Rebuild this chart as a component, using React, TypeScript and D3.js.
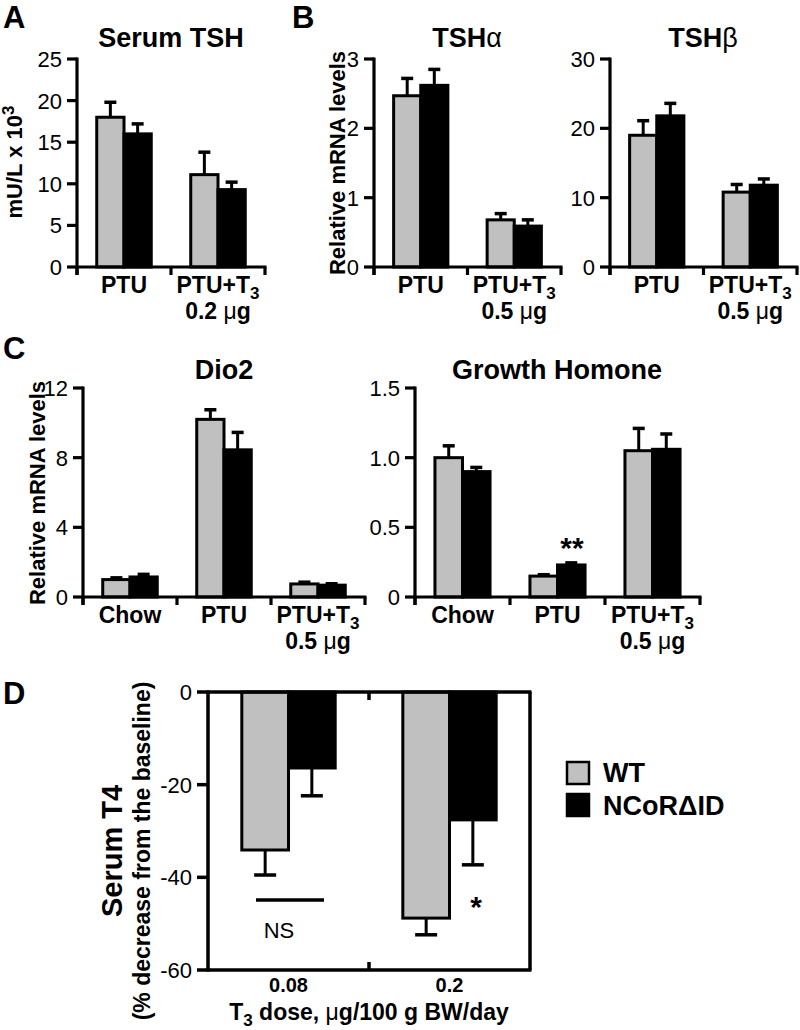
import React from 'react';
import * as d3 from 'd3';

const GRAY = '#c0c0c0';
const FONT = '"Liberation Sans", Arial, Helvetica, sans-serif';

// ---- Panel A: Serum TSH ----
const catsA = ['PTU', 'PTU+T3'];
const dosesA = ['', '0.2 μg'];
const tshWT = [18.0, 11.1];
const tshWTErr = [19.8, 13.8];
const tshKO = [16.0, 9.3];
const tshKOErr = [17.2, 10.2];
const ticksA = [0, 5, 10, 15, 20, 25];

// ---- Panel B: TSHalpha ----
const catsB = ['PTU', 'PTU+T3'];
const dosesB = ['', '0.5 μg'];
const tshaWT = [2.47, 0.68];
const tshaWTErr = [2.72, 0.77];
const tshaKO = [2.62, 0.59];
const tshaKOErr = [2.85, 0.68];
const ticksBa = [0, 1, 2, 3];

// ---- Panel B: TSHbeta ----
const tshbWT = [19.0, 10.8];
const tshbWTErr = [21.1, 11.9];
const tshbKO = [21.8, 11.8];
const tshbKOErr = [23.6, 12.7];
const ticksBb = [0, 10, 20, 30];

// ---- Panel C ----
const catsC = ['Chow', 'PTU', 'PTU+T3'];
const dosesC = ['', '', '0.5 μg'];
const dio2WT = [1.0, 10.2, 0.75];
const dio2WTErr = [1.1, 10.75, 0.85];
const dio2KO = [1.15, 8.45, 0.68];
const dio2KOErr = [1.3, 9.45, 0.76];
const ticksDio2 = [0, 4, 8, 12];

const ghWT = [1.0, 0.15, 1.05];
const ghWTErr = [1.085, 0.16, 1.21];
const ghKO = [0.9, 0.23, 1.06];
const ghKOErr = [0.93, 0.245, 1.17];
const ticksGH = [0, 0.5, 1.0, 1.5];

// ---- Panel D ----
const catsD = ['0.08', '0.2'];
const t4WT = [-34.1, -48.8];
const t4WTErr = [-39.5, -52.4];
const t4KO = [-16.4, -27.6];
const t4KOErr = [-22.4, -37.3];
const ticksD = [0, -20, -40, -60];

const legendLabels = ['WT', 'NCoRΔID'];

function CatLabel({ x, y, y2, label, dose }) {
  const isT3 = label.endsWith('T3');
  return (
    <g fontFamily={FONT} fontWeight="bold" fontSize={23} textAnchor="middle" fill="#000">
      <text x={x} y={y}>
        {isT3 ? (
          <>
            <tspan>{label.slice(0, -1)}</tspan>
            <tspan dy={6} fontSize={17}>3</tspan>
          </>
        ) : (
          label
        )}
      </text>
      {dose ? (
        <text x={x} y={y2}>
          <tspan>{dose.split(' ')[0] + ' '}</tspan>
          <tspan fontWeight="normal">μ</tspan>
          <tspan>g</tspan>
        </text>
      ) : null}
    </g>
  );
}

function BarPanel({
  x0, x1, yTop, yBottom, max, ticks, fmt, cats, doses, wt, wtErr, ko, koErr,
  title, titleY, labY, labY2,
}) {
  const x = d3.scaleBand().domain(cats).range([x0, x1]).paddingInner(0).paddingOuter(0);
  const y = d3.scaleLinear().domain([0, max]).range([yBottom, yTop]);
  const bw = x.bandwidth();
  const barW = bw * 0.29;
  const cap = 6;
  const fmtFn = fmt || ((d) => String(d));
  const bounds = d3.range(cats.length + 1).map((i) => x0 + i * bw);
  return (
    <g>
      {title}
      {cats.map((c, i) => {
        const cx = (x(c) as number) + bw / 2;
        const bars = [
          { v: wt[i], e: wtErr[i], fill: GRAY, left: cx - barW },
          { v: ko[i], e: koErr[i], fill: '#000', left: cx },
        ];
        return (
          <g key={c}>
            {bars.map((b, j) => {
              const mx = b.left + barW / 2;
              return (
                <g key={j}>
                  <line x1={mx} x2={mx} y1={y(b.v)} y2={y(b.e)} stroke="#000" strokeWidth={3} />
                  <line x1={mx - cap} x2={mx + cap} y1={y(b.e)} y2={y(b.e)} stroke="#000" strokeWidth={3.5} />
                  <rect
                    x={b.left}
                    y={y(b.v)}
                    width={barW}
                    height={yBottom - y(b.v)}
                    fill={b.fill}
                    stroke="#000"
                    strokeWidth={3}
                  />
                </g>
              );
            })}
          </g>
        );
      })}
      {/* y axis */}
      <line x1={x0} x2={x0} y1={yTop - 1.5} y2={yBottom + 8} stroke="#000" strokeWidth={3.2} />
      {ticks.map((t) => (
        <g key={t}>
          <line x1={x0 - 10} x2={x0} y1={y(t)} y2={y(t)} stroke="#000" strokeWidth={3.2} />
          <text
            x={x0 - 15}
            y={y(t)}
            dy="0.36em"
            textAnchor="end"
            fontFamily={FONT}
            fontSize={22}
            fill="#000"
          >
            {fmtFn(t)}
          </text>
        </g>
      ))}
      {/* x axis */}
      <line x1={x0} x2={x1 + 1.5} y1={yBottom} y2={yBottom} stroke="#000" strokeWidth={3.2} />
      {bounds.map((b, i) => (
        <line key={i} x1={b} x2={b} y1={yBottom} y2={yBottom + 8} stroke="#000" strokeWidth={3.2} />
      ))}
      {cats.map((c, i) => (
        <CatLabel key={c} x={(x(c) as number) + bw / 2} y={labY} y2={labY2} label={c} dose={doses[i]} />
      ))}
    </g>
  );
}

function Title({ x, y, children }) {
  return (
    <text x={x} y={y} textAnchor="middle" fontFamily={FONT} fontWeight="bold" fontSize={27} fill="#000">
      {children}
    </text>
  );
}

function PanelLetter({ x, y, children }) {
  return (
    <text x={x} y={y} fontFamily={FONT} fontWeight="bold" fontSize={31} fill="#000">
      {children}
    </text>
  );
}

function YLabel({ x, y, size = 22, children }) {
  return (
    <text
      transform={`translate(${x},${y}) rotate(-90)`}
      textAnchor="middle"
      fontFamily={FONT}
      fontWeight="bold"
      fontSize={size}
      fill="#000"
    >
      {children}
    </text>
  );
}

function PanelD() {
  const x0 = 208;
  const x1 = 530;
  const yTop = 692;
  const yBot = 970;
  const x = d3.scaleBand().domain(catsD).range([x0, x1]);
  const y = d3.scaleLinear().domain([0, -60]).range([yTop, yBot]);
  const bw = x.bandwidth();
  const barW = bw * 0.29;
  const cap = 11;
  return (
    <g>
      {catsD.map((c, i) => {
        const cx = (x(c) as number) + bw / 2;
        const bars = [
          { v: t4WT[i], e: t4WTErr[i], fill: GRAY, left: cx - barW },
          { v: t4KO[i], e: t4KOErr[i], fill: '#000', left: cx },
        ];
        return (
          <g key={c}>
            {bars.map((b, j) => {
              const mx = b.left + barW / 2;
              return (
                <g key={j}>
                  <line x1={mx} x2={mx} y1={y(b.v)} y2={y(b.e)} stroke="#000" strokeWidth={3} />
                  <line x1={mx - cap} x2={mx + cap} y1={y(b.e)} y2={y(b.e)} stroke="#000" strokeWidth={3.5} />
                  <rect
                    x={b.left}
                    y={yTop}
                    width={barW}
                    height={y(b.v) - yTop}
                    fill={b.fill}
                    stroke="#000"
                    strokeWidth={3}
                  />
                </g>
              );
            })}
            <text
              x={cx}
              y={992}
              textAnchor="middle"
              fontFamily={FONT}
              fontWeight="bold"
              fontSize={20}
              fill="#000"
            >
              {c}
            </text>
          </g>
        );
      })}
      {/* frame */}
      <line x1={x0} x2={x0} y1={yTop - 1.5} y2={yBot + 1.5} stroke="#000" strokeWidth={3.5} />
      <line x1={x0} x2={x1 + 1.5} y1={yTop} y2={yTop} stroke="#000" strokeWidth={3.5} />
      <line x1={x0} x2={x1 + 1.5} y1={yBot} y2={yBot} stroke="#000" strokeWidth={3.5} />
      <line x1={x1} x2={x1} y1={yTop} y2={yBot} stroke="#000" strokeWidth={3.5} />
      <line x1={x0 + bw} x2={x0 + bw} y1={yTop} y2={yTop + 8} stroke="#000" strokeWidth={3.5} />
      <line x1={x0 + bw} x2={x0 + bw} y1={yBot} y2={yBot - 8} stroke="#000" strokeWidth={3.5} />
      {ticksD.map((t) => (
        <g key={t}>
          <line x1={x0 - 11} x2={x0} y1={y(t)} y2={y(t)} stroke="#000" strokeWidth={3.5} />
          <text x={x0 - 16} y={y(t)} dy="0.36em" textAnchor="end" fontFamily={FONT} fontSize={22} fill="#000">
            {t === 0 ? '0' : `-${Math.abs(t)}`}
          </text>
        </g>
      ))}
      {/* NS annotation */}
      <line x1={256} x2={324} y1={900} y2={900} stroke="#000" strokeWidth={3.5} />
      <text x={279} y={938} textAnchor="middle" fontFamily={FONT} fontSize={22} fill="#000">
        NS
      </text>
      <text x={476} y={917} textAnchor="middle" fontFamily={FONT} fontWeight="bold" fontSize={30} fill="#000">
        *
      </text>
      {/* x label */}
      <text x={369} y={1020} textAnchor="middle" fontFamily={FONT} fontWeight="bold" fontSize={23} fill="#000">
        <tspan>T</tspan>
        <tspan dy={6} fontSize={17}>3</tspan>
        <tspan dy={-6}> dose, </tspan>
        <tspan fontWeight="normal">μ</tspan>
        <tspan>g/100 g BW/day</tspan>
      </text>
      {/* y label */}
      <YLabel x={122} y={851} size={29}>Serum T4</YLabel>
      <YLabel x={150} y={851} size={23}>(% decrease from the baseline)</YLabel>
      {/* legend */}
      {legendLabels.map((l, i) => (
        <g key={l}>
          <rect
            x={567}
            y={762 + i * 32}
            width={22}
            height={22}
            fill={i === 0 ? GRAY : '#000'}
            stroke="#000"
            strokeWidth={2.5}
          />
          <text x={603} y={782 + i * 33} fontFamily={FONT} fontWeight="bold" fontSize={27} fill="#000">
            {l}
          </text>
        </g>
      ))}
    </g>
  );
}

export default function App() {
  return (
    <svg
      width={800}
      height={1030}
      viewBox="0 0 800 1030"
      style={{ position: 'absolute', left: 0, top: 0, background: '#fff' }}
    >
      <rect x={0} y={0} width={800} height={1030} fill="#fff" />
      <PanelLetter x={3} y={28}>A</PanelLetter>
      <PanelLetter x={292} y={28}>B</PanelLetter>
      <PanelLetter x={3} y={359}>C</PanelLetter>
      <PanelLetter x={3} y={704}>D</PanelLetter>

      {/* Panel A */}
      <BarPanel
        x0={77} x1={265} yTop={59} yBottom={267} max={25} ticks={ticksA}
        cats={catsA} doses={dosesA} wt={tshWT} wtErr={tshWTErr} ko={tshKO} koErr={tshKOErr}
        title={<Title x={171} y={47}>Serum TSH</Title>}
        labY={293} labY2={319}
      />
      <YLabel x={22} y={162}>
        <tspan>mU/L x 10</tspan>
        <tspan dy={-8} fontSize={17}>3</tspan>
      </YLabel>

      {/* Panel B alpha */}
      <BarPanel
        x0={374} x1={561} yTop={59} yBottom={267} max={3} ticks={ticksBa}
        cats={catsB} doses={dosesB} wt={tshaWT} wtErr={tshaWTErr} ko={tshaKO} koErr={tshaKOErr}
        title={<Title x={467} y={47}><tspan>TSH</tspan><tspan fontWeight="normal">α</tspan></Title>}
        labY={293} labY2={319}
      />
      <YLabel x={345} y={163}>Relative mRNA levels</YLabel>

      {/* Panel B beta */}
      <BarPanel
        x0={610} x1={797} yTop={59} yBottom={267} max={30} ticks={ticksBb}
        cats={catsB} doses={dosesB} wt={tshbWT} wtErr={tshbWTErr} ko={tshbKO} koErr={tshbKOErr}
        title={<Title x={703} y={47}><tspan>TSH</tspan><tspan fontWeight="normal">β</tspan></Title>}
        labY={293} labY2={319}
      />

      {/* Panel C Dio2 */}
      <BarPanel
        x0={83} x1={365} yTop={388} yBottom={597} max={12} ticks={ticksDio2}
        cats={catsC} doses={dosesC} wt={dio2WT} wtErr={dio2WTErr} ko={dio2KO} koErr={dio2KOErr}
        title={<Title x={224} y={379}>Dio2</Title>}
        labY={623} labY2={649}
      />
      <YLabel x={45} y={493}>Relative mRNA levels</YLabel>

      {/* Panel C GH */}
      <BarPanel
        x0={415} x1={700} yTop={388} yBottom={597} max={1.5} ticks={ticksGH}
        fmt={(d) => (d === 0 ? '0' : d.toFixed(1))}
        cats={catsC} doses={dosesC} wt={ghWT} wtErr={ghWTErr} ko={ghKO} koErr={ghKOErr}
        title={<Title x={557} y={379}>Growth Homone</Title>}
        labY={623} labY2={649}
      />
      <text x={572} y={558} textAnchor="middle" fontFamily={FONT} fontWeight="bold" fontSize={30} fill="#000">
        **
      </text>

      <PanelD />
    </svg>
  );
}
